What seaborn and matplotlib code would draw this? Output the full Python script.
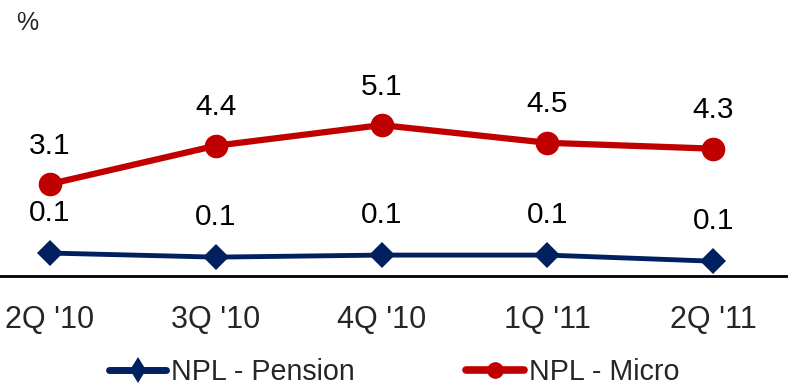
import matplotlib
matplotlib.use("Agg")
import matplotlib.pyplot as plt
import seaborn as sns
import pandas as pd
from matplotlib.lines import Line2D

sns.set_style("white")
plt.rcParams["font.family"] = ["Liberation Sans", "DejaVu Sans"]

quarters = ["2Q '10", "3Q '10", "4Q '10", "1Q '11", "2Q '11"]
npl_micro = [3.1, 4.4, 5.1, 4.5, 4.3]
npl_pension = [0.11, 0.09, 0.10, 0.10, 0.07]

RED = "#C00000"
BLUE = "#002060"

df = pd.DataFrame({"q": range(len(quarters)), "micro": npl_micro, "pension": npl_pension})

fig = plt.figure(figsize=(7.88, 3.87), dpi=100)
ax = fig.add_axes([0.0, 0.288, 1.0, 0.712])
ax2 = ax.twinx()

sns.lineplot(data=df, x="q", y="micro", ax=ax, color=RED, lw=4.5,
             marker="o", markersize=17, markeredgewidth=0)
sns.lineplot(data=df, x="q", y="pension", ax=ax2, color=BLUE, lw=3.5,
             marker="D", markersize=13, markeredgewidth=0)

for i, v in enumerate(npl_micro):
    ax.annotate(f"{v:.1f}", (i, v), xytext=(0, 27.7), textcoords="offset points",
                ha="center", va="center", fontsize=21.5, color="black")
for i, v in enumerate(npl_pension):
    ax2.annotate(f"{v:.1f}", (i, v), xytext=(0, 29), textcoords="offset points",
                 ha="center", va="center", fontsize=21.5, color="black")

ax.set_xlim(-0.30, 4.45)
ax.set_ylim(0, 9.34)
ax2.set_ylim(0, 1.347)

ax.set_xticks(range(len(quarters)))
ax.set_xticklabels(quarters, fontsize=22)
ax.tick_params(axis="x", length=0, pad=21)
ax.set_yticks([])
ax2.set_yticks([])
ax.set_xlabel("")
ax.set_ylabel("")
ax2.set_ylabel("")

for a in (ax, ax2):
    for s in ("top", "right", "left", "bottom"):
        a.spines[s].set_visible(False)
ax.spines["bottom"].set_visible(True)
ax.spines["bottom"].set_color("black")
ax.spines["bottom"].set_linewidth(2)

fig.text(0.02, 0.94, "%", fontsize=18, ha="left", va="center")

handles = [
    Line2D([0], [0], color=BLUE, lw=5, marker="d", markersize=13, markeredgewidth=0),
    Line2D([0], [0], color=RED, lw=5.5, marker="o", markersize=12, markeredgewidth=0),
]
fig.legend(handles, ["NPL - Pension", "NPL - Micro"], loc="center",
           bbox_to_anchor=(0.5, 0.04), ncol=2, frameon=False, fontsize=20.6,
           handlelength=2.0, handletextpad=0.17, columnspacing=3.9,
           borderpad=0, borderaxespad=0)

fig.savefig("out.png", dpi=100)
